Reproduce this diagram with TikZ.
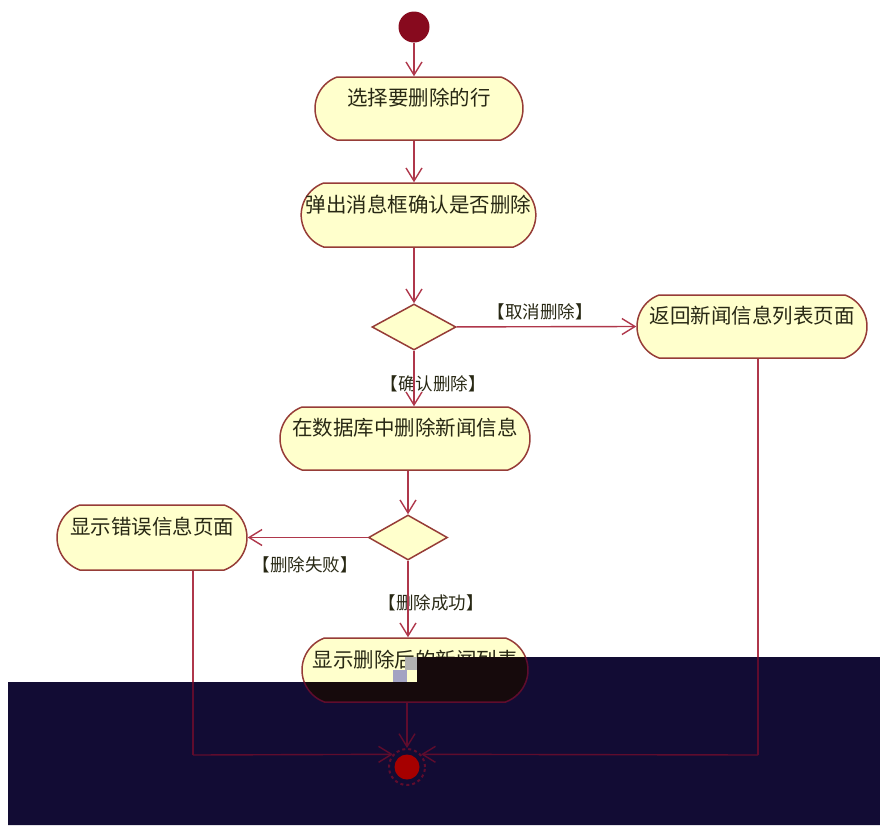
\documentclass[tikz,border=0pt]{standalone}
\usepackage{fontspec}
\setmainfont{Noto Sans CJK SC}
\usepackage{tikz}
\usetikzlibrary{arrows.meta, positioning, shapes.geometric, shapes.misc}
\definecolor{actfill}{RGB}{255,255,204}
\definecolor{actline}{RGB}{150,60,55}
\definecolor{flowred}{RGB}{175,55,75}
\definecolor{startred}{RGB}{135,10,30}
\definecolor{maskblue}{RGB}{18,12,52}
\definecolor{dimred}{RGB}{95,12,45}
\definecolor{nodedark}{RGB}{22,10,12}
\definecolor{txt}{RGB}{40,40,20}

\tikzset{
  stadium/.style={rounded rectangle, rounded rectangle arc length=140, line width=1.5pt, inner sep=0pt},
  act/.style={stadium, draw=actline, fill=actfill, text height=14pt, text depth=20pt, text=txt,
    font=\fontsize{20.5}{24}\selectfont},
  choice/.style={diamond, draw=actline, line width=1.5pt, fill=actfill, inner sep=0pt},
  flow/.style={draw=flowred, line width=1.4pt, -{Straight Barb[length=13pt,width=16pt]}},
  guard/.style={text=txt, inner sep=0pt, font=\fontsize{17.5}{20}\selectfont}
}

\begin{document}
\begin{tikzpicture}[x=1pt,y=-1pt]
  \useasboundingbox (0,0) rectangle (880,825);
  % activity nodes
  \node[circle, fill=startred, minimum size=31pt, inner sep=0pt] (start) at (414,27) {};
  \node[act, minimum width=208pt, minimum height=63pt] (n1) at (419,108.5) {选择要删除的行};
  \node[act, minimum width=227pt, minimum height=64pt] (n2) at (418.5,215) {弹出消息框确认是否删除};
  \node[choice, minimum width=84pt, minimum height=46pt] (d1) at (414,327) {};
  \node[act, minimum width=230pt, minimum height=63pt] (n3) at (752,326.5) {返回新闻信息列表页面};
  \node[act, minimum width=250pt, minimum height=63pt] (n4) at (405,438.5) {在数据库中删除新闻信息};
  \node[choice, minimum width=79pt, minimum height=45pt] (d2) at (408,537.5) {};
  \node[act, minimum width=190pt, minimum height=65pt] (n5) at (152,537.5) {显示错误信息页面};
  \node[act, minimum width=226pt, minimum height=64pt] (n6) at (415,670) {显示删除后的新闻列表};
  \coordinate (lbend) at (193,755);
  \coordinate (rbend) at (758,755);

  % guards
  \node[guard] (g1) at (540,312) {【取消删除】};
  \node[guard] (g2) at (433,384) {【确认删除】};
  \node[guard] (g3) at (305,565) {【删除失败】};
  \node[guard] (g4) at (431,603) {【删除成功】};

  % flows
  \draw[flow] (start) -- (start |- n1.north);
  \draw[flow] (n1.south -| start) -- (n2.north -| start);
  \draw[flow] (n2.south -| d1) -- (d1);
  \draw[flow] (d1) -- (n3.west);
  \draw[flow] (d1) -- (d1 |- n4.north);
  \draw[flow] (n4.south -| d2) -- (d2);
  \draw[flow] (d2) -- (n5.east);
  \draw[flow] (d2) -- (d2 |- n6.north);
  \draw[draw=flowred, line width=1.4pt] (n5.south -| lbend) -- (lbend);
  \draw[draw=flowred, line width=1.4pt] (n3.south -| rbend) -- (rbend);

  % dark block over the lower part
  \path[fill=maskblue] (8,682) -- (417,682) -- (417,657) -- (880,657) -- (880,825) -- (8,825) -- cycle;
  \fill[black!30!white] (405,657) rectangle (417,670);
  \fill[gray!80!blue!60] (393,670) rectangle (407,682);
  \begin{scope}
    \clip (8,682) -- (417,682) -- (417,657) -- (880,657) -- (880,825) -- (8,825) -- cycle;
    \node[stadium, draw=dimred, fill=nodedark, minimum width=226pt, minimum height=64pt] (n6shade) at (n6) {};
    \draw[draw=dimred, line width=1.4pt] (n5.south -| lbend) -- (lbend);
    \draw[draw=dimred, line width=1.4pt] (n3.south -| rbend) -- (rbend);
  \end{scope}
  \node[circle, draw=dimred, line width=2pt, dashed, minimum size=36pt, inner sep=0pt] (fin) at (407,767) {};
  \fill[red!65!black] (fin.center) circle (12.5);
  \draw[flow, draw=dimred] (lbend) -- (fin.138);
  \draw[flow, draw=dimred] (rbend) -- (fin.42);
  \draw[flow, draw=dimred] (n6.south -| fin) -- (fin);
\end{tikzpicture}
\end{document}
